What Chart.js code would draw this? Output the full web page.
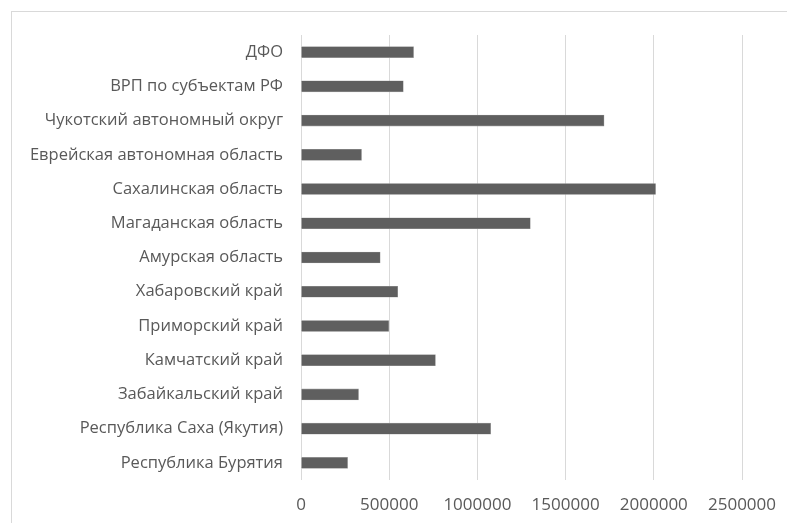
<!DOCTYPE html>
<html lang="ru">
<head>
  <meta charset="UTF-8" />
  <title>ВРП ДФО</title>
  <script src="https://cdn.jsdelivr.net/npm/chart.js"></script>
  <style>
    html, body { margin: 0; padding: 0; background: #fff; }
    .wrap { position: relative; width: 787px; height: 523px; }
    .frame { position: absolute; left: 11px; top: 11px; right: -5px; bottom: -5px;
             border-left: 1px solid #d9d9d9; border-top: 1px solid #d9d9d9; pointer-events: none; }
  </style>
</head>
<body>
  <div class="wrap">
    <canvas id="barCanvas" width="787" height="523"></canvas>
    <div class="frame"></div>
  </div>

  <script>
    const regions = [
      'ДФО',
      'ВРП по субъектам РФ',
      'Чукотский автономный округ',
      'Еврейская автономная область',
      'Сахалинская область',
      'Магаданская область',
      'Амурская область',
      'Хабаровский край',
      'Приморский край',
      'Камчатский край',
      'Забайкальский край',
      'Республика Саха (Якутия)',
      'Республика Бурятия'
    ];
    const grpValues = [638000, 580000, 1718000, 343000, 2010000, 1300000, 449000,
                       548000, 497000, 762000, 326000, 1075000, 264000];
    const xTicks = [0, 500000, 1000000, 1500000, 2000000, 2500000];

    const textColor = '#595959';
    const fontFamily = "'Open Sans', 'DejaVu Sans', sans-serif";

    const ctx = document.getElementById('barCanvas').getContext('2d');
    new Chart(ctx, {
      type: 'bar',
      data: {
        labels: regions,
        datasets: [{
          data: grpValues,
          backgroundColor: '#5f5f5f',
          borderColor: '#9a9a9a',
          borderWidth: 0.6,
          barThickness: 11
        }]
      },
      options: {
        indexAxis: 'y',
        responsive: false,
        animation: false,
        layout: { padding: { top: 35, right: 45, bottom: 0, left: 0 } },
        plugins: {
          legend: { display: false },
          tooltip: { enabled: false }
        },
        scales: {
          x: {
            min: 0,
            max: 2500000,
            afterBuildTicks: axis => { axis.ticks = xTicks.map(v => ({ value: v })); },
            afterFit: axis => {
              axis.height = 43;
              axis.paddingLeft = 0;
              axis.paddingRight = 0;
            },
            grid: { color: '#d9d9d9', drawTicks: false },
            border: { display: false },
            ticks: {
              color: textColor,
              padding: 15,
              font: { family: fontFamily, size: 17 },
              callback: v => String(v)
            }
          },
          y: {
            afterFit: axis => { axis.width = 301; },
            grid: { display: false, drawTicks: false },
            border: { display: false },
            ticks: {
              color: textColor,
              padding: 18,
              font: { family: fontFamily, size: 16.5 }
            }
          }
        }
      }
    });
  </script>
</body>
</html>
